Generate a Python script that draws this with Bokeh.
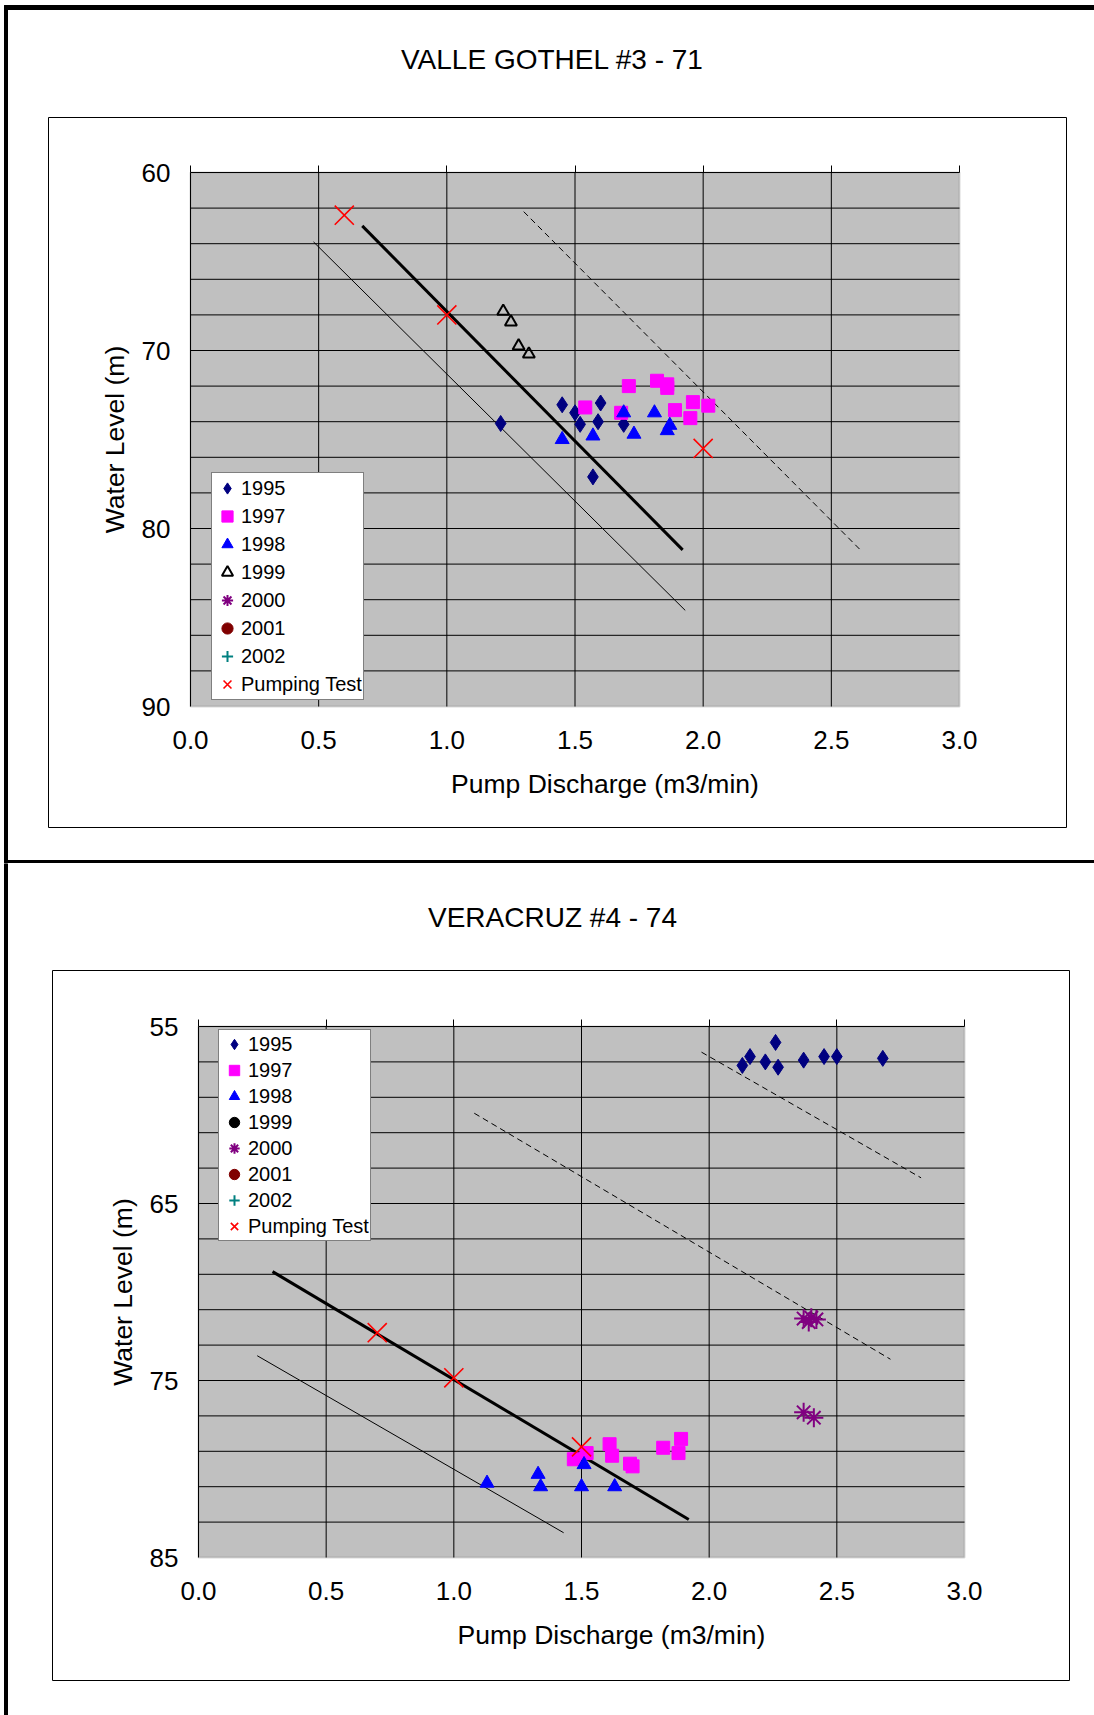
import numpy as np
from bokeh.plotting import figure
from bokeh.layouts import column
from bokeh.models import (Range1d, FixedTicker, LinearAxis, BoxAnnotation, Label,
                          Legend, LegendItem, ColumnDataSource, PrintfTickFormatter)
from bokeh.embed import file_html
from bokeh.resources import INLINE

NAN = float("nan")

# ---------------- data: VALLE GOTHEL #3 - 71 ----------------
vg_title = "VALLE GOTHEL #3 - 71"
vg_1995_x = [1.21, 1.45, 1.60, 1.50, 1.52, 1.59, 1.69, 1.57]
vg_1995_y = [74.1, 73.05, 72.95, 73.5, 74.15, 74.0, 74.15, 77.1]
vg_1997_x = [1.71, 1.82, 1.86, 1.86, 1.54, 1.68, 1.89, 1.96, 2.02, 1.95]
vg_1997_y = [72.0, 71.7, 71.9, 72.1, 73.2, 73.5, 73.35, 72.9, 73.1, 73.8]
vg_1998_x = [1.69, 1.81, 1.87, 1.86, 1.45, 1.57, 1.73]
vg_1998_y = [73.5, 73.5, 74.2, 74.5, 75.0, 74.8, 74.7]
vg_1999_x = [1.22, 1.25, 1.28, 1.32]
vg_1999_y = [67.8, 68.4, 69.75, 70.2]
vg_2000_x, vg_2000_y = [NAN], [NAN]      # no observations
vg_2001_x, vg_2001_y = [NAN], [NAN]      # no observations
vg_2002_x, vg_2002_y = [NAN], [NAN]      # no observations
vg_pt_x = [0.60, 1.00, 2.00]
vg_pt_y = [62.4, 68.0, 75.5]
vg_fit_x = [0.67, 1.92]
vg_fit_y = [63.0, 81.2]
vg_low_x = [0.48, 1.93]
vg_low_y = [63.9, 84.6]
vg_high_x = [1.30, 2.62]
vg_high_y = [62.2, 81.3]
vg_y_labels = [60, 70, 80, 90]
vg_y_grid = list(range(60, 91, 2))

# ---------------- data: VERACRUZ #4 - 74 ----------------
vc_title = "VERACRUZ #4 - 74"
vc_1995_x = [2.13, 2.16, 2.22, 2.26, 2.27, 2.37, 2.45, 2.50, 2.68]
vc_1995_y = [57.2, 56.7, 57.0, 55.9, 57.3, 56.9, 56.7, 56.7, 56.8]
vc_1997_x = [1.47, 1.52, 1.61, 1.62, 1.69, 1.70, 1.82, 1.89, 1.88]
vc_1997_y = [79.45, 79.1, 78.6, 79.25, 79.7, 79.85, 78.8, 78.3, 79.1]
vc_1998_x = [1.13, 1.33, 1.34, 1.50, 1.51, 1.63]
vc_1998_y = [80.8, 80.3, 81.0, 81.0, 79.75, 81.0]
vc_1999_x, vc_1999_y = [NAN], [NAN]      # no observations
vc_2000_x = [2.37, 2.40, 2.42, 2.39, 2.37, 2.41]
vc_2000_y = [71.5, 71.45, 71.55, 71.7, 76.8, 77.1]
vc_2001_x, vc_2001_y = [NAN], [NAN]      # no observations
vc_2002_x, vc_2002_y = [NAN], [NAN]      # no observations
vc_pt_x = [0.70, 1.00, 1.50]
vc_pt_y = [72.3, 74.85, 78.75]
vc_fit_x = [0.29, 1.92]
vc_fit_y = [68.85, 82.85]
vc_low_x = [0.23, 1.43]
vc_low_y = [73.6, 83.6]
vc_high1_x = [1.08, 2.71]
vc_high1_y = [59.9, 73.8]
vc_high2_x = [1.97, 2.83]
vc_high2_y = [56.45, 63.55]
vc_y_labels = [55, 65, 75, 85]
vc_y_grid = list(range(55, 86, 2))

x_ticks = [0.0, 0.5, 1.0, 1.5, 2.0, 2.5, 3.0]
legend_labels = ["1995", "1997", "1998", "1999", "2000", "2001", "2002", "Pumping Test"]

FONT = "Liberation Sans"
W = 1094


def add_markers(p, key, xs, ys, open_1999):
    src = ColumnDataSource(dict(x=xs, y=ys))
    if key == "1995":
        return p.scatter("x", "y", source=src, marker="diamond", size=16,
                         fill_color="#000080", line_color="#000080")
    if key == "1997":
        return p.scatter("x", "y", source=src, marker="square", size=13,
                         fill_color="#FF00FF", line_color="#FF00FF")
    if key == "1998":
        return p.scatter("x", "y", source=src, marker="triangle", size=14,
                         fill_color="#0000FF", line_color="#0000FF")
    if key == "1999":
        if open_1999:
            return p.scatter("x", "y", source=src, marker="triangle", size=12,
                             fill_color=None, line_color="black", line_width=2)
        return p.scatter("x", "y", source=src, marker="circle", size=13,
                         fill_color="black", line_color="black")
    if key == "2000":
        return p.scatter("x", "y", source=src, marker="asterisk", size=19,
                         line_color="#800080", line_width=2)
    if key == "2001":
        return p.scatter("x", "y", source=src, marker="circle", size=13,
                         fill_color="#800000", line_color="#800000")
    if key == "2002":
        return p.scatter("x", "y", source=src, marker="cross", size=14,
                         line_color="#008080", line_width=2)
    return p.scatter("x", "y", source=src, marker="x", size=27,
                     line_color="#FF0000", line_width=1.6)


def make_chart(title, series, fit, low, highs, y_labels, y_grid, height, lay):
    # pixel layout of the canvas -> data ranges (frame covers the whole canvas)
    gl, gr, gt, gb = lay["grey"]
    x0, x1 = x_ticks[0], x_ticks[-1]
    y0, y1 = y_grid[0], y_grid[-1]
    sx = (gr - gl) / (x1 - x0)
    sy = (gb - gt) / (y1 - y0)
    xr = Range1d(x0 - gl / sx, x1 + (W - gr) / sx)
    yr = Range1d(y1 + (height - gb) / sy, y0 - gt / sy)

    def X(px):
        return x0 + (px - gl) / sx

    def Y(py):
        return y0 + (py - gt) / sy

    p = figure(width=W, height=height, x_range=xr, y_range=yr,
               output_backend="svg", toolbar_location=None,
               min_border=0, background_fill_color="white", border_fill_color="white",
               outline_line_color=None)
    p.xgrid.visible = False
    p.ygrid.visible = False

    # plot area
    p.add_layout(BoxAnnotation(left=x0, right=x1, top=y0, bottom=y1,
                               fill_color="#C0C0C0", fill_alpha=1.0,
                               line_color="#808080", line_width=2, level="underlay"))
    # grid lines
    vx = x_ticks[:-1]
    p.segment(x0=vx, x1=vx, y0=[y0] * len(vx), y1=[y1] * len(vx),
              line_color="black", line_width=1)
    hy = y_grid[:-1]
    p.segment(x0=[x0] * len(hy), x1=[x1] * len(hy), y0=hy, y1=hy,
              line_color="black", line_width=1)

    # axes pinned to the plot-area edges
    xa = p.xaxis[0]
    xa.fixed_location = y1
    xa.ticker = FixedTicker(ticks=x_ticks)
    xa.formatter = PrintfTickFormatter(format="%.1f")
    xa.axis_label = "Pump Discharge (m3/min)"
    # the x-axis title sits ~30 px right of the plot-area centre
    xc = X((gl + gr) / 2 + 30)
    xa.bounds = (x0 - 1e-6, 2 * xc - x0)
    ya = p.yaxis[0]
    ya.fixed_location = x0
    ya.ticker = FixedTicker(ticks=y_labels)
    ya.axis_label = "Water Level (m)"
    ya.bounds = (y0 - 1e-6, y1 + 1e-6)
    for ax in (xa, ya):
        ax.major_tick_out = 0
        ax.major_tick_in = 0
        ax.minor_tick_out = 0
        ax.minor_tick_in = 0
        ax.axis_line_color = None
        ax.major_label_text_font = FONT
        ax.major_label_text_font_size = "26px"
        ax.major_label_text_color = "black"
        ax.axis_label_text_font = FONT
        ax.axis_label_text_font_size = "26.5px"
        ax.axis_label_text_font_style = "normal"
        ax.axis_label_text_color = "black"
    xa.major_label_standoff = 24
    xa.axis_label_standoff = 17
    ya.major_label_standoff = 20
    ya.axis_label_standoff = 9

    top_ax = LinearAxis(ticker=FixedTicker(ticks=x_ticks), fixed_location=y0,
                        major_tick_out=7, major_tick_in=0, minor_tick_out=0, minor_tick_in=0,
                        axis_line_color=None, major_tick_line_color="black",
                        major_label_text_color=None)
    p.add_layout(top_ax, "above")

    # reference lines
    p.line(fit[0], fit[1], line_color="black", line_width=3)
    p.line(low[0], low[1], line_color="black", line_width=1)
    for hx, hy2 in highs:
        p.line(hx, hy2, line_color="black", line_width=1, line_dash="6 4")

    # markers + legend
    items = []
    for lab in legend_labels:
        key = lab if lab != "Pumping Test" else "pt"
        xs, ys = series[lab]
        r = add_markers(p, key, xs, ys, lay["open_1999"])
        items.append(LegendItem(label=lab, renderers=[r]))
    gh = lay["legend_row"]
    leg = Legend(items=items, location=lay["legend_xy"],
                 label_text_font=FONT, label_text_font_size="20px", label_text_color="black",
                 glyph_width=28, glyph_height=gh, label_height=gh, label_standoff=0,
                 spacing=0, padding=1, margin=0,
                 border_line_color="black", border_line_width=1,
                 background_fill_color="white", background_fill_alpha=1.0)
    p.add_layout(leg, "center")

    # title
    tx, ty = lay["title"]
    p.add_layout(Label(x=X(tx), y=Y(ty), text=title, text_align="center",
                       text_baseline="middle", text_font=FONT, text_font_size="28px",
                       text_color="black"))

    # frame boxes and thick borders
    for (l, t, r, b, filled) in lay["rects"]:
        p.add_layout(BoxAnnotation(left=X(l), right=X(r), top=Y(t), bottom=Y(b),
                                   fill_color="black" if filled else None,
                                   fill_alpha=1.0 if filled else 0.0,
                                   line_color="black", line_width=1, line_alpha=1.0,
                                   level="underlay"))
    return p


H1 = 863
p1 = make_chart(
    vg_title,
    {"1995": (vg_1995_x, vg_1995_y), "1997": (vg_1997_x, vg_1997_y),
     "1998": (vg_1998_x, vg_1998_y), "1999": (vg_1999_x, vg_1999_y),
     "2000": (vg_2000_x, vg_2000_y), "2001": (vg_2001_x, vg_2001_y),
     "2002": (vg_2002_x, vg_2002_y), "Pumping Test": (vg_pt_x, vg_pt_y)},
    (vg_fit_x, vg_fit_y), (vg_low_x, vg_low_y), [(vg_high_x, vg_high_y)],
    vg_y_labels, vg_y_grid, H1,
    {"grey": (190, 959, 172, 706),
     "title": (552, 59),
     "rects": [(4, 5, W, 9, True), (4, 5, 7, H1, True), (4, 860, W, H1, True),
               (48, 117, 1066, 827, False)],
     "legend_xy": (211, 163), "legend_row": 28, "open_1999": True})

H2 = 1715 - H1
p2 = make_chart(
    vc_title,
    {"1995": (vc_1995_x, vc_1995_y), "1997": (vc_1997_x, vc_1997_y),
     "1998": (vc_1998_x, vc_1998_y), "1999": (vc_1999_x, vc_1999_y),
     "2000": (vc_2000_x, vc_2000_y), "2001": (vc_2001_x, vc_2001_y),
     "2002": (vc_2002_x, vc_2002_y), "Pumping Test": (vc_pt_x, vc_pt_y)},
    (vc_fit_x, vc_fit_y), (vc_low_x, vc_low_y),
    [(vc_high1_x, vc_high1_y), (vc_high2_x, vc_high2_y)],
    vc_y_labels, vc_y_grid, H2,
    {"grey": (198, 964, 163, 694),
     "title": (552, 54),
     "rects": [(4, 0, 7, H2, True), (52, 107, 1069, 817, False)],
     "legend_xy": (218, 474), "legend_row": 26, "open_1999": False})

layout = column(p1, p2, spacing=0)
open("out.html", "w").write(file_html(layout, INLINE))
